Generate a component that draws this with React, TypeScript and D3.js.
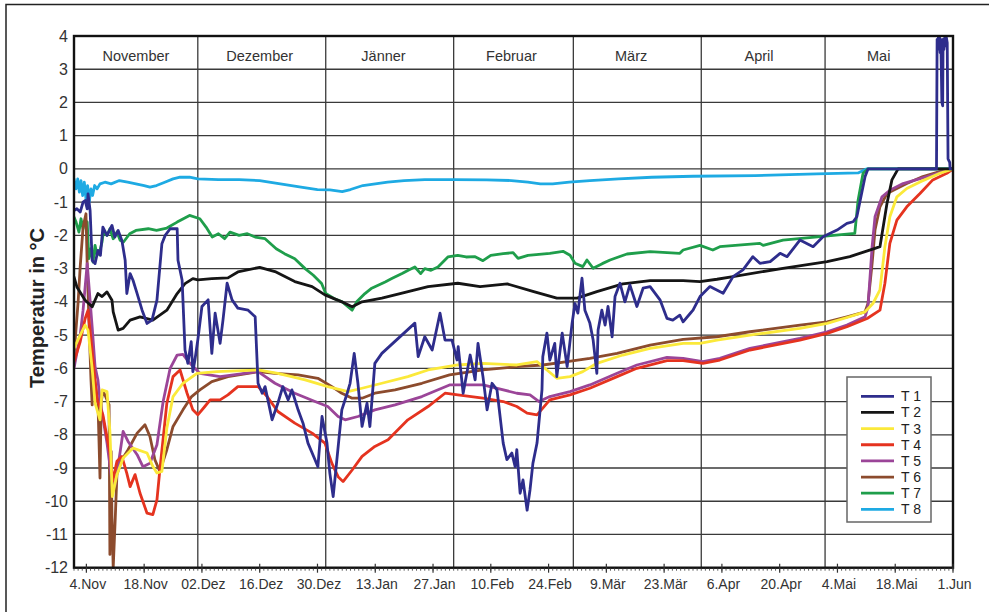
import * as d3 from 'd3';

// days counted from 1 Nov 2011 (leap year 2012), values in °C
const t1: [number, number][] = [
  [0, -1.25], [0.7, -1.2], [1.5, -1.3], [2.2, -1.0], [2.7, -0.95], [3.2, -1.2], [3.4, -0.75], [3.9, -1.25],
  [4.4, -2.75], [5.1, -2.85], [5.8, -2.45], [6.4, -2.6], [7.0, -1.75], [8.0, -2.0], [9.2, -1.7], [9.9, -2.05],
  [10.7, -1.85], [11.6, -2.15], [12.4, -2.75], [12.8, -3.75], [13.6, -3.15], [14.3, -3.35], [15.3, -3.75],
  [16.5, -4.25], [17.7, -4.65], [18.9, -4.55], [20.1, -3.95], [21.3, -2.25], [22.1, -2.0], [23.3, -1.8],
  [25.0, -1.8], [25.2, -2.75], [26.2, -3.35], [26.9, -5.45], [27.6, -5.85], [28.4, -5.2], [28.8, -6.1],
  [29.3, -5.75], [30.0, -5.15], [30.3, -4.85], [31.0, -4.14], [32.5, -3.94], [33.4, -5.55], [34.2, -4.34],
  [35.4, -5.25], [36.1, -4.55], [37.1, -3.44], [38.3, -3.94], [39.7, -4.19], [42.2, -4.25], [43.9, -4.45],
  [44.6, -6.45], [45.6, -6.75], [46.3, -6.55], [48.0, -7.55], [49.4, -7.05], [50.6, -6.55], [51.9, -6.95],
  [52.8, -6.65], [54.3, -7.25], [55.5, -7.65], [56.7, -8.25], [58.4, -8.75], [59.1, -8.96], [60.1, -7.45],
  [61.3, -8.25], [62.0, -9.16], [62.8, -9.86], [63.7, -8.75], [64.9, -7.25], [66.2, -6.75], [66.9, -6.45],
  [67.9, -5.55], [68.8, -6.45], [69.8, -7.75], [71.0, -7.05], [71.7, -7.75], [72.9, -5.85], [74.6, -5.55],
  [82.6, -4.64], [83.4, -5.65], [85.0, -5.05], [86.8, -5.45], [88.7, -4.34], [89.9, -5.15], [91.6, -5.15],
  [92.8, -5.75], [93.1, -5.35], [94.3, -6.75], [96.0, -5.6], [97.2, -6.35], [97.9, -5.25], [99.1, -6.25],
  [100.1, -7.25], [101.3, -6.45], [102.5, -6.65], [104.0, -8.25], [104.9, -8.75], [106.1, -8.55],
  [106.9, -8.96], [107.3, -8.45], [108.1, -9.76], [108.8, -9.36], [109.8, -10.27], [110.5, -9.66],
  [111.2, -8.86], [112.2, -8.25], [113.4, -6.65], [113.6, -5.65], [114.6, -4.94], [115.3, -5.75],
  [116.5, -5.25], [117.0, -6.25], [118.3, -4.94], [119.5, -5.95], [120.7, -4.64], [121.4, -4.05],
  [122.1, -4.34], [123.1, -3.29], [123.8, -4.25], [125.0, -4.64], [125.8, -5.15], [126.7, -6.15],
  [127.0, -4.85], [127.9, -4.25], [128.7, -4.7], [129.4, -4.14], [130.4, -5.05], [131.1, -3.84],
  [132.3, -3.44], [133.5, -4.0], [134.7, -3.49], [136.4, -4.14], [137.9, -3.59], [139.6, -3.54],
  [142.0, -3.94], [143.7, -4.5], [145.1, -4.55], [146.8, -4.4], [147.6, -4.6], [149.3, -4.35],
  [150.0, -4.25], [151.7, -3.84], [154.1, -3.54], [157.3, -3.74], [159.7, -3.24], [162.1, -3.04],
  [164.5, -2.64], [166.2, -2.84], [168.7, -2.79], [171.1, -2.54], [172.8, -2.64], [175.9, -2.14],
  [179.1, -2.34], [181.5, -2.04], [184.9, -1.84], [187.3, -1.64], [188.8, -1.59], [189.7, -1.44],
  [191.7, -0.23], [192.4, 0], [209.0, 0], [209.15, 3.9], [209.3, 3.6], [209.45, 3.95], [209.6, 3.7],
  [209.75, 3.95], [209.9, 3.5], [210.05, 3.9], [210.3, 2.0], [210.5, 1.9], [210.6, 3.9], [210.8, 3.6],
  [211.0, 3.95], [211.2, 3.7], [211.4, 3.95], [211.6, 3.8], [211.8, 0.3], [212.2, 0.2], [212.3, 0], [213, 0],
];

const t2: [number, number][] = [
  [0, -3.25], [0.7, -3.55], [2.7, -3.95], [4.4, -4.15], [5.8, -3.75], [6.8, -3.84], [8.0, -3.7], [9.2, -3.95],
  [9.5, -4.3], [10.7, -4.85], [11.9, -4.8], [13.6, -4.55], [16.0, -4.45], [19.1, -4.55], [22.5, -4.25],
  [25.0, -3.75], [26.9, -3.45], [28.8, -3.3], [30.0, -3.34], [33.4, -3.3], [37.3, -3.28], [39.7, -3.1],
  [45.0, -2.96], [48.7, -3.09], [53.5, -3.39], [57.7, -3.54], [60.8, -3.79], [64.9, -4.0], [67.4, -4.15],
  [69.8, -4.0], [74.6, -3.89], [79.5, -3.74], [85.8, -3.54], [93.0, -3.44], [98.4, -3.54], [105.0, -3.46],
  [111.4, -3.69], [117.0, -3.89], [121.9, -3.89], [126.7, -3.69], [133.0, -3.46], [139.6, -3.36],
  [147.6, -3.36], [151.7, -3.39], [155.8, -3.32], [159.7, -3.24], [171.8, -2.99], [182.5, -2.79],
  [188.0, -2.64], [194.1, -2.39], [195.3, -2.34], [197.0, -1.04], [198.2, -0.33], [199.7, 0], [213, 0],
];

const t3: [number, number][] = [
  [0, -5.4], [1.5, -5.0], [2.7, -4.7], [3.4, -4.85], [4.4, -6.0], [5.1, -7.05], [6.3, -7.55], [6.8, -6.65],
  [8.0, -6.7], [8.7, -7.9], [9.3, -9.86], [10.4, -9.2], [11.9, -8.7], [14.3, -8.4], [17.7, -8.55],
  [19.1, -8.95], [20.1, -9.15], [21.3, -9.1], [22.5, -7.8], [24.0, -6.85], [26.4, -6.45], [29.8, -6.15],
  [34.6, -6.1], [44.6, -6.05], [49.4, -6.15], [56.0, -6.35], [61.5, -6.55], [66.4, -6.7], [69.8, -6.6],
  [74.6, -6.45], [80.9, -6.25], [85.8, -6.05], [93.0, -5.9], [99.0, -5.85], [107.3, -5.9], [112.2, -5.8],
  [114.6, -6.05], [117.0, -6.3], [120.2, -6.25], [123.3, -6.1], [126.7, -5.85], [133.0, -5.6], [139.6, -5.4],
  [147.6, -5.25], [151.7, -5.25], [155.8, -5.15], [163.8, -5.0], [175.9, -4.8], [182.5, -4.65],
  [187.3, -4.47], [191.7, -4.3], [193.6, -4.05], [195.3, -3.64], [196.5, -2.34], [197.7, -1.44],
  [199.4, -0.84], [201.8, -0.59], [205.0, -0.39], [209.8, -0.13], [213, 0],
];

const t4: [number, number][] = [
  [0, -5.8], [1.5, -5.2], [2.7, -4.5], [3.4, -4.25], [4.6, -5.75], [5.6, -6.95], [7.0, -7.4], [8.7, -8.55],
  [9.4, -9.4], [10.4, -8.8], [11.6, -8.65], [12.8, -9.16], [13.6, -9.56], [14.8, -9.2], [16.0, -9.76],
  [17.7, -10.36], [19.1, -10.4], [20.1, -9.96], [20.8, -9.06], [22.5, -7.05], [24.0, -6.25], [25.7, -6.05],
  [27.4, -6.75], [28.8, -7.25], [30.0, -7.4], [31.7, -7.15], [33.0, -6.95], [35.4, -6.95], [37.3, -6.8],
  [39.7, -6.55], [44.6, -6.55], [46.8, -6.85], [49.4, -7.3], [53.5, -7.65], [57.7, -7.95], [60.8, -8.25],
  [62.5, -8.86], [64.0, -9.26], [65.2, -9.41], [67.4, -9.06], [69.8, -8.65], [72.9, -8.35], [76.1, -8.15],
  [80.9, -7.55], [85.8, -7.15], [89.9, -6.75], [93.0, -6.8], [99.1, -6.9], [104.0, -7.0], [107.3, -7.15],
  [109.8, -7.35], [112.2, -7.4], [113.6, -7.2], [115.3, -6.95], [120.2, -6.8], [125.0, -6.6], [131.6, -6.25],
  [136.4, -6.0], [143.7, -5.77], [147.6, -5.77], [152.4, -5.85], [156.5, -5.75], [163.8, -5.45],
  [175.9, -5.15], [182.5, -4.95], [187.3, -4.75], [192.2, -4.5], [195.3, -4.25], [196.5, -3.44],
  [197.7, -2.24], [199.4, -1.54], [201.8, -1.14], [205.0, -0.74], [208.1, -0.33], [211.5, -0.13], [213, 0],
];

const t5: [number, number][] = [
  [0, -6.0], [1.5, -5.0], [2.2, -4.25], [3.2, -2.85], [4.4, -4.75], [5.1, -5.95], [5.8, -6.35], [6.3, -6.95],
  [8.0, -8.25], [9.2, -9.4], [9.9, -9.55], [11.2, -8.5], [11.9, -7.9], [13.1, -8.2], [15.3, -8.6],
  [16.7, -8.96], [18.4, -8.86], [20.1, -8.3], [21.6, -7.0], [23.3, -6.0], [25.0, -5.6], [26.4, -5.58],
  [28.1, -5.85], [30.5, -6.15], [35.4, -6.25], [44.6, -6.1], [48.7, -6.45], [53.5, -6.75], [58.4, -7.0],
  [61.5, -7.15], [64.0, -7.45], [65.7, -7.55], [68.8, -7.45], [72.9, -7.25], [77.8, -7.1], [84.3, -6.85],
  [91.0, -6.5], [99.1, -6.5], [107.3, -6.75], [110.5, -6.8], [112.7, -7.0], [115.3, -6.85], [120.2, -6.7],
  [125.0, -6.5], [131.6, -6.15], [136.4, -5.9], [143.7, -5.67], [147.6, -5.7], [152.4, -5.8], [156.5, -5.7],
  [163.8, -5.4], [175.9, -5.1], [182.5, -4.9], [187.3, -4.7], [191.7, -4.45], [192.4, -4.15], [193.4, -2.34],
  [194.1, -1.44], [195.8, -0.84], [197.7, -0.64], [200.9, -0.44], [206.7, -0.23], [210.6, -0.08], [213, 0],
];

const t6: [number, number][] = [
  [0, -5.6], [1.0, -4.0], [1.5, -2.95], [2.2, -1.75], [2.9, -1.35], [3.2, -2.9], [3.6, -4.5], [4.1, -6.3],
  [4.4, -7.1], [4.6, -6.0], [5.3, -6.6], [5.8, -7.0], [6.3, -9.3], [6.6, -7.0], [7.0, -6.7], [7.5, -6.8],
  [8.5, -7.1], [8.7, -11.6], [9.0, -8.5], [9.2, -10.5], [9.5, -12.0], [10.0, -10.5], [10.4, -9.2],
  [11.6, -8.75], [13.1, -8.45], [15.3, -7.95], [17.2, -7.7], [18.4, -8.05], [19.6, -8.75], [20.8, -9.1],
  [22.5, -8.45], [24.0, -7.75], [26.4, -7.25], [28.5, -6.85], [30.5, -6.65], [33.4, -6.4], [37.3, -6.25],
  [44.6, -6.1], [48.7, -6.15], [54.3, -6.2], [59.1, -6.3], [62.5, -6.55], [64.9, -6.75], [67.4, -6.9],
  [69.8, -6.9], [72.9, -6.75], [77.8, -6.65], [84.3, -6.45], [91.0, -6.2], [99.1, -6.05], [107.3, -5.95],
  [113.6, -5.9], [119.5, -5.8], [125.0, -5.7], [131.6, -5.55], [139.6, -5.3], [147.6, -5.13], [155.8, -5.05],
  [163.8, -4.9], [175.9, -4.7], [182.5, -4.6], [187.3, -4.45], [191.7, -4.3], [192.4, -4.05], [193.4, -2.84],
  [194.1, -1.84], [195.3, -1.14], [197.0, -0.74], [199.4, -0.59], [201.8, -0.44], [205.7, -0.23],
  [209.8, -0.08], [213, 0],
];

const t7: [number, number][] = [
  [0, -1.45], [0.5, -1.6], [1.2, -1.9], [1.7, -1.5], [2.2, -1.8], [2.7, -1.55], [3.2, -1.6], [3.6, -2.7],
  [4.1, -2.4], [4.6, -2.8], [5.1, -2.3], [5.6, -2.6], [6.2, -2.5], [6.8, -2.2], [7.1, -1.9], [8.0, -2.0],
  [8.7, -1.8], [9.5, -2.1], [10.4, -1.9], [11.2, -2.15], [12.0, -2.2], [13.5, -1.95], [15.0, -1.85],
  [18.0, -1.8], [20.0, -1.85], [22.5, -1.78], [25.0, -1.6], [28.0, -1.4], [30.5, -1.5], [32.0, -1.75],
  [33.5, -2.05], [35.0, -1.95], [36.5, -2.1], [37.8, -1.9], [40.0, -2.0], [42.0, -1.95], [43.9, -2.05],
  [46.3, -2.1], [49.0, -2.4], [51.0, -2.55], [53.5, -2.7], [56.0, -3.0], [58.0, -3.2], [60.0, -3.45],
  [61.0, -3.75], [63.0, -3.9], [65.0, -4.0], [67.4, -4.25], [68.5, -4.0], [70.5, -3.75], [72.0, -3.6],
  [75.4, -3.4], [77.0, -3.3], [79.5, -3.15], [81.0, -3.05], [82.6, -2.95], [84.0, -3.15], [85.0, -3.0],
  [86.5, -3.05], [88.2, -2.95], [90.6, -2.65], [93.0, -2.6], [95.0, -2.65], [97.2, -2.64], [99.1, -2.76],
  [101.0, -2.6], [104.0, -2.55], [106.4, -2.52], [107.6, -2.69], [110.0, -2.6], [115.3, -2.54],
  [118.5, -2.48], [120.2, -2.6], [121.4, -2.84], [123.3, -2.94], [124.3, -2.74], [125.8, -2.99],
  [128.0, -2.85], [129.9, -2.74], [134.0, -2.56], [139.6, -2.49], [146.8, -2.54], [147.6, -2.44],
  [151.7, -2.3], [154.8, -2.44], [156.5, -2.34], [166.2, -2.24], [167.0, -2.3], [171.8, -2.14],
  [180.8, -2.04], [189.2, -1.94], [190.0, -0.94], [191.2, -0.13], [192.4, 0], [213, 0],
];

const t8: [number, number][] = [
  [0, -0.3], [0.5, -0.6], [0.9, -0.3], [1.3, -0.7], [1.7, -0.35], [2.1, -0.8], [2.5, -0.4], [2.9, -0.9],
  [3.3, -0.5], [3.7, -1.0], [4.1, -0.6], [4.5, -0.8], [5.0, -0.5], [5.6, -0.6], [6.3, -0.45], [7.5, -0.4],
  [9.0, -0.45], [11.0, -0.35], [13.0, -0.4], [15.0, -0.45], [17.0, -0.5], [18.4, -0.55], [20.0, -0.5],
  [22.0, -0.4], [24.0, -0.3], [25.7, -0.25], [28.0, -0.25], [30.0, -0.3], [35.0, -0.32], [40.0, -0.32],
  [45.0, -0.35], [50.0, -0.45], [55.0, -0.55], [59.0, -0.62], [62.0, -0.63], [65.0, -0.68], [67.0, -0.62],
  [70.0, -0.5], [73.0, -0.45], [76.0, -0.4], [80.0, -0.35], [85.0, -0.32], [92.0, -0.32], [100.0, -0.33],
  [106.0, -0.35], [110.0, -0.4], [113.0, -0.45], [116.0, -0.45], [120.0, -0.4], [125.0, -0.35],
  [132.0, -0.3], [140.0, -0.25], [150.0, -0.22], [165.0, -0.2], [180.0, -0.15], [190.0, -0.12],
  [192.0, 0], [213, 0],
];

const seriesNames = ['T 1', 'T 2', 'T 3', 'T 4', 'T 5', 'T 6', 'T 7', 'T 8'];
const seriesColors = ['#2e2d8c', '#151515', '#fbe93a', '#e5331f', '#9b4598', '#8c4b2d', '#1f9e4b', '#1eaae3'];
const seriesData = [t1, t2, t3, t4, t5, t6, t7, t8];

const monthNames = ['November', 'Dezember', 'Jänner', 'Februar', 'März', 'April', 'Mai'];
const monthLabelDates = ['2011-11-16', '2011-12-16', '2012-01-15', '2012-02-15', '2012-03-15', '2012-04-15', '2012-05-14'];
const monthStarts = ['2011-12-01', '2012-01-01', '2012-02-01', '2012-03-01', '2012-04-01', '2012-05-01'];

const tickDates = [
  '2011-11-04', '2011-11-18', '2011-12-02', '2011-12-16', '2011-12-30', '2012-01-13', '2012-01-27', '2012-02-10',
  '2012-02-24', '2012-03-09', '2012-03-23', '2012-04-06', '2012-04-20', '2012-05-04', '2012-05-18', '2012-06-01',
];
const tickLabels = [
  '4.Nov', '18.Nov', '02.Dez', '16.Dez', '30.Dez', '13.Jan', '27.Jan', '10.Feb',
  '24.Feb', '9.Mär', '23.Mär', '6.Apr', '20.Apr', '4.Mai', '18.Mai', '1.Jun',
];
const yTicks = [4, 3, 2, 1, 0, -1, -2, -3, -4, -5, -6, -7, -8, -9, -10, -11, -12];

const W = 989;
const H = 612;
const left = 74;
const right = 953;
const top = 36;
const bottom = 567.7;
const FONT = "'Liberation Sans', Arial, Helvetica, sans-serif";

const start = new Date(Date.UTC(2011, 10, 1));
const end = new Date(Date.UTC(2012, 5, 1));
const parse = d3.utcParse('%Y-%m-%d');
const dayToDate = (d: number) => new Date(start.getTime() + d * 864e5);

export default function App() {
  const x = d3.scaleUtc().domain([start, end]).range([left, right]);
  const y = d3.scaleLinear().domain([-12, 4]).range([bottom, top]);

  const line = d3
    .line<[number, number]>()
    .x(d => x(dayToDate(d[0])))
    .y(d => y(d[1]));

  const days = d3.utcDay.range(start, d3.utcDay.offset(end, 1));

  // legend geometry
  const lgX = 847;
  const lgY = 377;
  const lgRow = 16.15;

  return (
    <svg
      width={W}
      height={H}
      style={{ position: 'absolute', left: 0, top: 0, background: '#fff' }}
      fontFamily={FONT}
    >
      <defs>
        <clipPath id="plot">
          <rect x={left} y={top - 2} width={right - left} height={bottom - top + 4} />
        </clipPath>
      </defs>
      <rect x={0} y={0} width={W} height={H} fill="#fff" />
      {/* outer frame */}
      <rect x={6} y={4.5} width={W + 10} height={H + 10} fill="none" stroke="#222" strokeWidth={1.5} />

      {/* horizontal grid */}
      {yTicks.map(v => (
        <line key={'g' + v} x1={left} x2={right} y1={y(v)} y2={y(v)} stroke="#3a3a3a" strokeWidth={1.3} />
      ))}
      {/* month separators */}
      {monthStarts.map(s => {
        const xx = x(parse(s) as Date);
        return <line key={s} x1={xx} x2={xx} y1={top} y2={bottom} stroke="#3a3a3a" strokeWidth={1.3} />;
      })}
      {/* month names */}
      {monthNames.map((m, i) => (
        <text
          key={m}
          x={x(parse(monthLabelDates[i]) as Date)}
          y={56}
          textAnchor="middle"
          dominantBaseline="central"
          fontSize={14.5}
          fill="#333"
        >
          {m}
        </text>
      ))}

      {/* series, T 1 on top */}
      <g clipPath="url(#plot)">
        {seriesData
          .map((s, i) => ({ s, i }))
          .reverse()
          .map(({ s, i }) => (
            <path
              key={seriesNames[i]}
              d={line(s) || ''}
              fill="none"
              stroke={seriesColors[i]}
              strokeWidth={2.8}
              strokeLinejoin="round"
              strokeLinecap="round"
            />
          ))}
      </g>

      {/* plot border */}
      <rect x={left} y={top} width={right - left} height={bottom - top} fill="none" stroke="#111" strokeWidth={2.4} />

      {/* x axis: daily minor ticks and major ticks */}
      {days.map(d => (
        <line key={d.getTime()} x1={x(d)} x2={x(d)} y1={bottom} y2={bottom + 3} stroke="#333" strokeWidth={0.8} />
      ))}
      {tickDates.map((t, i) => {
        const xx = x(parse(t) as Date);
        return (
          <g key={t}>
            <line x1={xx} x2={xx} y1={bottom - 4} y2={bottom + 5} stroke="#333" strokeWidth={1.2} />
            <text x={xx + 1.5} y={589} textAnchor="middle" fontSize={14} fill="#333">
              {tickLabels[i]}
            </text>
          </g>
        );
      })}

      {/* y axis labels */}
      {yTicks.map(v => (
        <text key={'t' + v} x={68} y={y(v)} textAnchor="end" dominantBaseline="central" fontSize={16} fill="#333">
          {v}
        </text>
      ))}
      <text
        transform={`translate(37, 308) rotate(-90)`}
        textAnchor="middle"
        dominantBaseline="central"
        fontSize={20}
        fontWeight="bold"
        fill="#222"
      >
        Temperatur in °C
      </text>

      {/* legend */}
      <rect x={lgX} y={lgY} width={84} height={145} fill="#fff" stroke="#666" strokeWidth={1.5} />
      {seriesNames.map((n, i) => {
        const yy = lgY + 19.3 + i * lgRow;
        return (
          <g key={'l' + n}>
            <line x1={lgX + 14} x2={lgX + 47} y1={yy} y2={yy} stroke={seriesColors[i]} strokeWidth={2.8} />
            <text x={lgX + 54} y={yy} dominantBaseline="central" fontSize={14} fill="#222">
              {n}
            </text>
          </g>
        );
      })}
    </svg>
  );
}
